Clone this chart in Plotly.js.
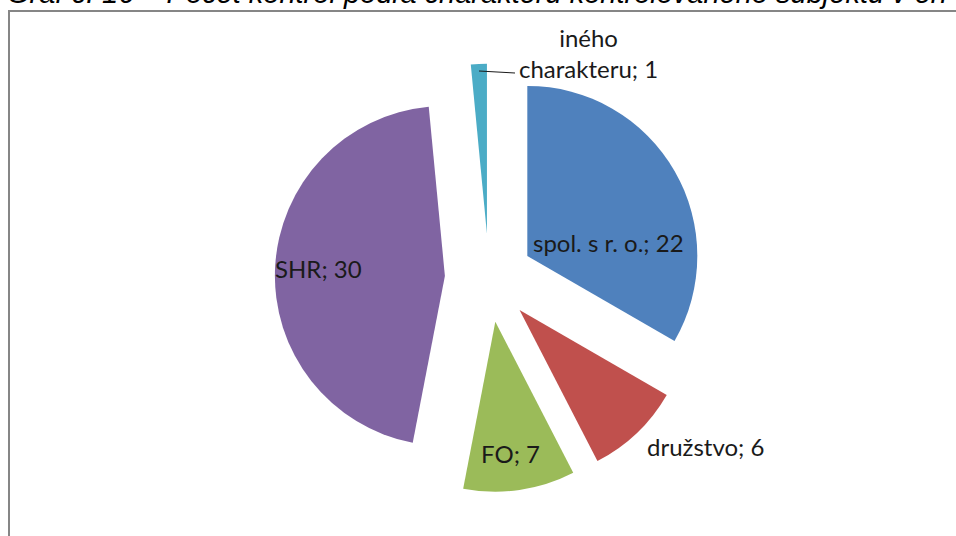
<!DOCTYPE html>
<html>
<head>
<meta charset="utf-8">
<script src="https://cdn.plot.ly/plotly-3.0.1.min.js"></script>
<style>html,body{margin:0;padding:0;background:#fff;overflow:hidden;}#chart{width:956px;height:536px;}</style>
</head>
<body>
<div id="chart"></div>
<script>
const titleText = "Graf č. 16 – Počet kontrol podľa charakteru kontrolovaného subjektu v en";
const labels = ["spol. s r. o.", "družstvo", "FO", "SHR", "iného charakteru"];
const values = [22, 6, 7, 30, 1];
const colors = ["#4F81BD", "#C0504D", "#9BBB59", "#8064A2", "#4BACC6"];
const explode = 0.26;

const W = 956, H = 536;
const px = x => x / W;
const py = y => 1 - y / H;

// label anchor positions (pixels) for each slice label
const labelPos = [[608, 242], [705, 446], [511, 453], [318, 268], [588, 53]];

const annotations = labels.map((l, i) => ({
  text: (i === 4 ? l.replace(" ", "<br>") : l) + "; " + values[i],
  x: px(labelPos[i][0]), y: py(labelPos[i][1]),
  xref: "paper", yref: "paper", showarrow: false,
  xanchor: "center", yanchor: "middle",
  font: {family: "Lato, 'Noto Sans', sans-serif", size: 24, color: "#1a1a1a"},
  align: "center"
}));
annotations.push({
  text: titleText, x: px(5), y: py(11), xref: "paper", yref: "paper",
  xanchor: "left", yanchor: "bottom", showarrow: false,
  font: {family: "'Liberation Sans', Arial, sans-serif", size: 29, color: "#000", style: "italic"}
});

const data = [{
  type: "pie",
  labels: labels,
  values: values,
  sort: false,
  direction: "clockwise",
  rotation: 0,
  pull: values.map(() => explode),
  marker: {colors: colors, line: {width: 0}},
  textinfo: "none",
  hoverinfo: "label+value",
  showlegend: false,
  domain: {x: [0.2875, 0.7356], y: [0.0817, 0.8810]}
}];

const layout = {
  width: W, height: H,
  margin: {l: 0, r: 0, t: 0, b: 0},
  paper_bgcolor: "#fff",
  showlegend: false,
  annotations: annotations,
  shapes: [
    {type: "rect", xref: "paper", yref: "paper", x0: px(9), x1: px(970), y0: py(560), y1: py(11),
     line: {color: "#868686", width: 2}, fillcolor: "rgba(0,0,0,0)"},
    {type: "line", xref: "paper", yref: "paper", x0: px(479), y0: py(71), x1: px(515), y1: py(73),
     line: {color: "#1a1a1a", width: 1}}
  ]
};

Plotly.newPlot("chart", data, layout, {displayModeBar: false, staticPlot: true});
</script>
</body>
</html>
